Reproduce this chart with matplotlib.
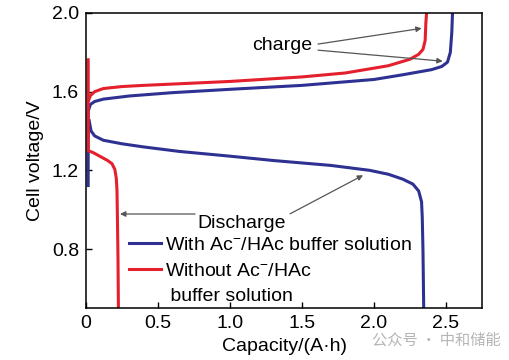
import matplotlib
matplotlib.use("Agg")
import matplotlib.pyplot as plt
from matplotlib.lines import Line2D

plt.rcParams['font.family'] = ['Liberation Sans', 'DejaVu Sans']
plt.rcParams['mathtext.fontset'] = 'custom'
plt.rcParams['mathtext.rm'] = 'Liberation Sans'
plt.rcParams['mathtext.default'] = 'regular'

# ---- data (capacity A·h, voltage V) ----
blue_charge_x = [0.015, 0.015, 0.03, 0.06, 0.12, 0.3, 0.6, 1.0, 1.5, 2.0, 2.2, 2.4, 2.47, 2.51, 2.53, 2.54, 2.545]
blue_charge_y = [1.115, 1.50, 1.535, 1.55, 1.562, 1.578, 1.595, 1.612, 1.632, 1.662, 1.686, 1.712, 1.728, 1.75, 1.80, 1.90, 2.0]

blue_dis_x = [0.02, 0.035, 0.06, 0.12, 0.25, 0.4, 0.65, 1.0, 1.3, 1.7, 1.97, 2.1, 2.2, 2.27, 2.31, 2.33, 2.335, 2.34, 2.345]
blue_dis_y = [1.46, 1.40, 1.375, 1.353, 1.335, 1.319, 1.296, 1.272, 1.25, 1.225, 1.20, 1.18, 1.155, 1.13, 1.095, 1.04, 0.96, 0.79, 0.5]

red_charge_x = [0.015, 0.03, 0.06, 0.12, 0.25, 0.4, 0.7, 1.0, 1.5, 1.8, 2.1, 2.25, 2.31, 2.34, 2.355, 2.36, 2.365]
red_charge_y = [1.55, 1.58, 1.60, 1.616, 1.626, 1.632, 1.642, 1.652, 1.675, 1.695, 1.732, 1.765, 1.79, 1.815, 1.86, 1.95, 2.0]

red_dis_x = [0.015, 0.015, 0.05, 0.10, 0.15, 0.18, 0.20, 0.21, 0.215, 0.218, 0.222, 0.225]
red_dis_y = [1.77, 1.30, 1.29, 1.27, 1.25, 1.234, 1.205, 1.16, 1.10, 0.96, 0.75, 0.5]

x_ticks = [0, 0.5, 1.0, 1.5, 2.0, 2.5]
x_tick_labels = ["0", "0.5", "1.0", "1.5", "2.0", "2.5"]
y_ticks = [0.8, 1.2, 1.6, 2.0]
y_tick_labels = ["0.8", "1.2", "1.6", "2.0"]

BLUE = "#2e3192"
RED = "#e4202c"
ARROW = "#555555"
FS = 14

fig = plt.figure(figsize=(5.09, 3.60), dpi=100)
ax = fig.add_axes([0.169, 0.1444, 0.778, 0.8195])

lw = 2.2
ax.plot(blue_charge_x, blue_charge_y, color=BLUE, lw=lw, solid_capstyle='butt')
ax.plot(blue_dis_x, blue_dis_y, color=BLUE, lw=lw, solid_capstyle='butt')
ax.plot(red_charge_x, red_charge_y, color=RED, lw=lw, solid_capstyle='butt')
ax.plot(red_dis_x, red_dis_y, color=RED, lw=lw, solid_capstyle='butt')

ax.set_xlim(0, 2.75)
ax.set_ylim(0.5, 2.0)
ax.set_xticks(x_ticks)
ax.set_xticklabels(x_tick_labels)
ax.set_yticks(y_ticks)
ax.set_yticklabels(y_tick_labels)
ax.tick_params(direction='in', length=4, width=1.0, labelsize=FS, pad=5, colors='black')
for s in ax.spines.values():
    s.set_linewidth(1.1)

ax.set_xlabel("Capacity/(A·h)", fontsize=FS, labelpad=4)
ax.set_ylabel("Cell voltage/V", fontsize=FS, labelpad=6)

# annotations
ap = dict(arrowstyle='-|>', color=ARROW, lw=0.9, mutation_scale=8, shrinkA=0, shrinkB=0)
ax.text(1.153, 1.837, "charge", fontsize=FS, ha='left', va='center')
ax.annotate('', xy=(2.331, 1.922), xytext=(1.611, 1.842), arrowprops=ap)
ax.annotate('', xy=(2.477, 1.755), xytext=(1.611, 1.811), arrowprops=ap)

ax.text(0.77, 0.932, "Discharge", fontsize=FS, ha='left', va='center')
ax.annotate('', xy=(0.236, 0.978), xytext=(0.757, 0.978), arrowprops=ap)
ax.annotate('', xy=(1.924, 1.175), xytext=(1.417, 0.979), arrowprops=ap)

handles = [Line2D([], [], color=BLUE, lw=lw),
           Line2D([], [], color=RED, lw=lw),
           Line2D([], [], color='none', lw=0)]
labels = ["With Ac$^{-}$/HAc buffer solution",
          "Without Ac$^{-}$/HAc",
          " buffer solution"]
leg = ax.legend(handles, labels, loc='upper left', bbox_to_anchor=(0.108, 0.243),
                frameon=False, fontsize=FS, handlelength=1.65, handletextpad=0.2,
                labelspacing=0.42, borderpad=0, borderaxespad=0)

fig.text(0.73, 0.055, "公众号 · 中和储能", fontsize=11, color="#b5b5b5",
         family=['Noto Sans CJK SC', 'DejaVu Sans'], ha='left', va='center')

fig.savefig("out.png", dpi=100)
